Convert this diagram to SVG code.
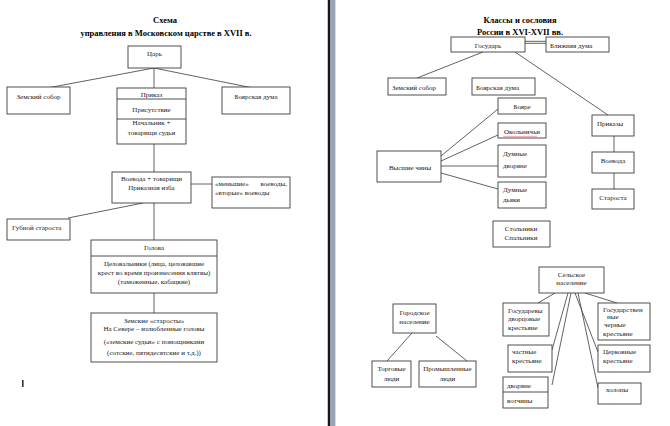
<svg xmlns="http://www.w3.org/2000/svg" width="670" height="426" viewBox="0 0 670 426">
<style>
.b{fill:#fff;stroke:#3c3c3c;stroke-width:0.9}
.c line,.c polyline{stroke:#505050;stroke-width:0.9;fill:none}
text{font-family:"Liberation Serif","Times New Roman",serif;font-size:7px;fill:#1a1a1a}
.t{font-size:8.5px;font-weight:bold;text-anchor:middle;fill:#000}
.m{text-anchor:middle}
.d{stroke:#3c3c3c;stroke-width:0.9}
</style>
<rect x="0" y="0" width="670" height="426" fill="#fff"/>
<!-- page divider -->
<rect x="327" y="0" width="1" height="426" fill="#c8c8c8"/>
<rect x="328" y="0" width="2" height="426" fill="#151515"/>
<rect x="330" y="0" width="5" height="426" fill="#9ba4b6"/>
<rect x="335" y="0" width="1" height="426" fill="#dcdcdc"/>
<!-- text cursor -->
<rect x="22" y="380" width="1.6" height="7" fill="#333"/>

<g id="title-left">
<text class="t" x="165" y="23">Схема</text>
<text class="t" x="166" y="36">управления в Московском царстве в XVII в.</text>
</g>
<g id="title-right">
<text class="t" x="520" y="23">Классы и сословия</text>
<text class="t" x="520" y="35">России в XVI-XVII вв.</text>
</g>

<g class="c" id="connectors">
<line x1="154" y1="68" x2="47" y2="88"/>
<line x1="154" y1="68" x2="154" y2="88"/>
<line x1="154" y1="68" x2="253" y2="88"/>
<line x1="154" y1="144" x2="154" y2="172"/>
<line x1="191" y1="184" x2="212" y2="184"/>
<line x1="143" y1="203" x2="68" y2="218"/>
<line x1="154" y1="203" x2="154" y2="240"/>
<line x1="154" y1="293" x2="154" y2="313"/>
<line x1="525" y1="41.3" x2="546" y2="41.3"/>
<line x1="525" y1="43.3" x2="546" y2="43.3"/>
<line x1="483" y1="52" x2="417" y2="78"/>
<line x1="515" y1="52" x2="608" y2="115"/>
<line x1="441" y1="156" x2="498" y2="109"/>
<line x1="441" y1="161" x2="498" y2="135"/>
<line x1="441" y1="166" x2="498" y2="166"/>
<line x1="441" y1="173" x2="498" y2="189"/>
<line x1="614" y1="136" x2="614" y2="152"/>
<line x1="614" y1="173" x2="614" y2="189"/>
<line x1="412" y1="333" x2="387" y2="361"/>
<line x1="436" y1="336" x2="467" y2="361"/>
<line x1="555" y1="293" x2="538" y2="303"/>
<line x1="585" y1="293" x2="617" y2="303"/>
<line x1="568" y1="293" x2="552" y2="350"/>
<line x1="571" y1="293" x2="552" y2="385"/>
<line x1="575" y1="293" x2="598" y2="352"/>
<line x1="578" y1="293" x2="598" y2="388"/>
</g>

<!-- left page -->
<g id="tsar"><rect class="b" x="128" y="46" width="53" height="22"/><text class="m" x="154.5" y="56">Царь</text></g>
<g id="zemsky-sobor-l"><rect class="b" x="7" y="87" width="63" height="27"/><text class="m" x="38.5" y="99">Земский собор</text></g>
<g id="boyar-duma-l"><rect class="b" x="222" y="87" width="68" height="27"/><text class="m" x="256" y="99">Боярская дума</text></g>
<g id="prikaz">
<rect class="b" x="117" y="88" width="69" height="56"/>
<line class="d" x1="117" y1="99" x2="186" y2="99"/>
<line class="d" x1="117" y1="119" x2="186" y2="119"/>
<text class="m" x="151.5" y="96.5">Приказ</text>
<text class="m" x="151.5" y="112">Присутствие</text>
<text class="m" x="151.5" y="125">Начальник +</text>
<text class="m" x="151.5" y="135">товарищи судьи</text>
</g>
<g id="voevoda-l"><rect class="b" x="112" y="172" width="79" height="31"/>
<text class="m" x="151.5" y="181">Воевода + товарищи</text>
<text class="m" x="151.5" y="190">Приказная изба</text></g>
<g id="lesser-voevody"><rect class="b" x="212" y="177" width="78" height="31"/>
<text x="215" y="185.5">«меньшие»</text><text x="287" y="185.5" text-anchor="end">воеводы,</text>
<text x="215" y="195">«вторые» воеводы</text></g>
<g id="gubnoy"><rect class="b" x="7" y="219" width="63" height="21"/><text x="12" y="229.5">Губной староста</text></g>
<g id="golova"><rect class="b" x="91" y="240" width="126" height="53"/>
<line class="d" x1="91" y1="256" x2="217" y2="256"/>
<text class="m" x="154" y="249.5">Голова</text>
<text class="m" x="154" y="265.5">Целовальники (лица, целовавшие</text>
<text class="m" x="154" y="274.5">крест во время произнесения клятвы)</text>
<text class="m" x="154" y="283.5">(таможенные, кабацкие)</text></g>
<g id="zemskie"><rect class="b" x="91" y="313" width="126" height="49"/>
<text class="m" x="154" y="322.5">Земские «старосты»</text>
<text class="m" x="154" y="330.5">На Севере – излюбленные головы</text>
<text class="m" x="154" y="343.5">(«земские судьи» с помощниками</text>
<text class="m" x="154" y="354.5">(сотские, пятидесятские и т.д.))</text></g>

<!-- right page -->
<g id="gosudar"><rect class="b" x="451" y="37" width="74" height="15"/><text class="m" x="488" y="47.5">Государь</text></g>
<g id="blizhnyaya"><rect class="b" x="546" y="37" width="63" height="15"/><text x="550" y="47.5">Ближняя дума</text></g>
<g id="zemsky-sobor-r"><rect class="b" x="388" y="78" width="58" height="17"/><text x="392" y="89.5">Земский собор</text></g>
<g id="boyar-duma-r"><rect class="b" x="472" y="78" width="63" height="17"/><text x="476" y="89.5">Боярская дума</text></g>
<g id="boyare"><rect class="b" x="498" y="98" width="48" height="16"/><text class="m" x="522" y="108.5">Бояре</text></g>
<g id="okolnichi"><rect class="b" x="498" y="123" width="48" height="15"/><text class="m" x="522" y="134">Окольничьи</text>
<path d="M503,136.5 q1,-1 2,0 t2,0 t2,0 t2,0 t2,0 t2,0 t2,0 t2,0 t2,0 t2,0 t2,0 t2,0 t2,0 t2,0 t2,0 t2,0 t2,0" fill="none" stroke="#e04040" stroke-width="0.5"/></g>
<g id="dumnye-dvoryane"><rect class="b" x="498" y="145" width="48" height="32"/><text x="503" y="155.5">Думные</text><text x="503" y="167.5">дворяне</text></g>
<g id="dumnye-dyaki"><rect class="b" x="498" y="182" width="48" height="26"/><text x="503" y="191.5">Думные</text><text x="503" y="201.5">дьяки</text></g>
<g id="vysshie-chiny"><rect class="b" x="377" y="151" width="64" height="31"/><text class="m" x="410" y="169.5">Высшие чины</text></g>
<g id="prikazy"><rect class="b" x="592" y="115" width="42" height="21"/><text x="597" y="125.5">Приказы</text></g>
<g id="voevoda-r"><rect class="b" x="592" y="152" width="42" height="21"/><text class="m" x="613" y="162.5">Воевода</text></g>
<g id="starosta"><rect class="b" x="592" y="189" width="42" height="20"/><text class="m" x="613" y="199.5">Староста</text></g>
<g id="stolniki"><rect class="b" x="493" y="221" width="57" height="26"/><text class="m" x="521" y="230.5">Стольники</text><text class="m" x="521" y="239.5">Спальники</text></g>
<g id="selskoe"><rect class="b" x="539" y="267" width="65" height="26"/><text class="m" x="571.5" y="276.5">Сельское</text><text class="m" x="571.5" y="284.5">население</text></g>
<g id="gorodskoe"><rect class="b" x="393" y="304" width="43" height="29"/><text class="m" x="414.5" y="314.5">Городское</text><text class="m" x="414.5" y="323.5">население</text></g>
<g id="torgovye"><rect class="b" x="372" y="361" width="39" height="26"/><text class="m" x="391.5" y="370.5">Торговые</text><text class="m" x="391.5" y="380.5">люди</text></g>
<g id="promyshlennye"><rect class="b" x="419" y="361" width="57" height="26"/><text class="m" x="447.5" y="370.5">Промышленные</text><text class="m" x="447.5" y="380.5">люди</text></g>
<g id="gosudarevy"><rect class="b" x="503" y="303" width="46" height="33"/><text x="508" y="312.5">Государевы</text><text x="508" y="320.5">дворцовые</text><text x="508" y="329.5">крестьяне</text></g>
<g id="gosudarstvennye"><rect class="b" x="598" y="303" width="52" height="37"/><text x="603" y="311.5">Государствен</text><text x="607" y="318.5">ные</text><text x="604" y="326.5">черные</text><text x="603" y="335.5">крестьяне</text></g>
<g id="chastnye"><rect class="b" x="508" y="345" width="44" height="27"/><text x="512" y="353.5">частные</text><text x="512" y="362.5">крестьяне</text></g>
<g id="tserkovnye"><rect class="b" x="598" y="345" width="52" height="27"/><text x="603" y="353.5">Церковные</text><text x="603" y="362.5">крестьяне</text></g>
<g id="dvoryane-votchiny"><rect class="b" x="503" y="377" width="45" height="31"/><line class="d" x1="503" y1="392" x2="548" y2="392"/><text x="507" y="387.5">дворяне</text><text x="507" y="402.5">вотчины</text></g>
<g id="kholopy"><rect class="b" x="598" y="383" width="43" height="21"/><text x="606" y="391.5">холопы</text></g>
</svg>
